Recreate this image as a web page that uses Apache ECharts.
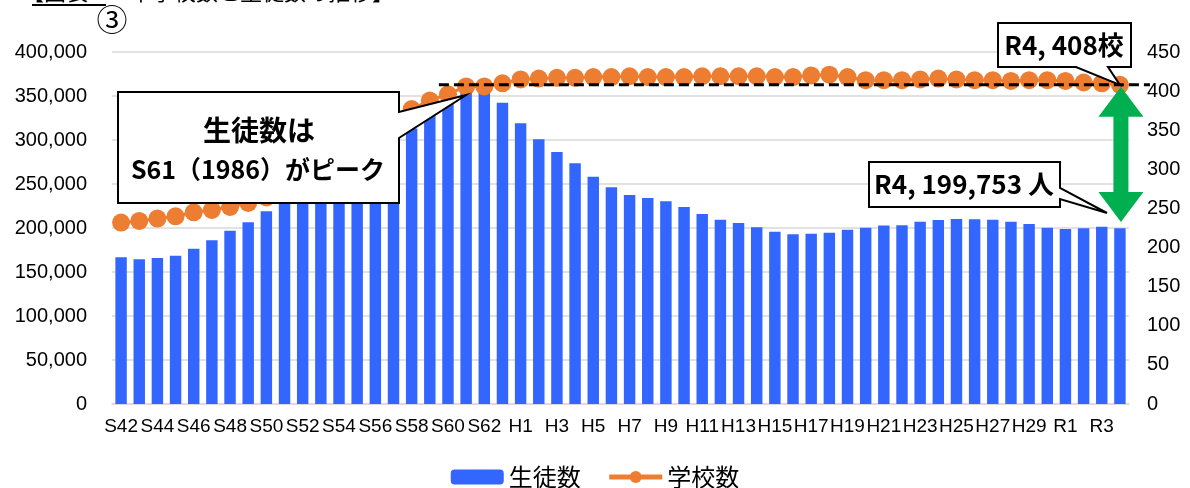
<!DOCTYPE html>
<html>
<head>
<meta charset="utf-8">
<script src="https://cdn.jsdelivr.net/npm/echarts@6/dist/echarts.min.js"></script>
<style>
html,body{margin:0;padding:0;background:#fff;}
#main{width:1190px;height:488px;}
</style>
</head>
<body>
<div id="main"></div>
<script>
// Fiscal years (S = Showa, H = Heisei, R = Reiwa)
const categories = [
  'S42','S43','S44','S45','S46','S47','S48','S49','S50','S51','S52','S53','S54','S55','S56','S57','S58','S59','S60','S61','S62','S63',
  'H1','H2','H3','H4','H5','H6','H7','H8','H9','H10','H11','H12','H13','H14','H15','H16','H17','H18','H19','H20','H21','H22','H23','H24','H25','H26','H27','H28','H29','H30',
  'R1','R2','R3','R4'
];
// 生徒数 (students)
const students = [
  166700,164400,165900,168500,176500,186000,197000,206400,219000,229000,240000,251000,262000,274000,286000,299000,313000,332000,357600,363000,358000,342400,
  319000,300800,286400,273500,258300,246200,237500,234100,230300,223900,215900,209500,205700,200800,195800,192800,193600,194700,198100,200400,202700,203000,207200,209100,210200,209900,209500,207200,204500,200400,
  198900,199600,201500,199753
];
// 学校数 (schools)
const schools = [
  232,234,237,240,245,248,252,257,264,275,288,302,317,332,347,362,377,388,396,406,406,410,
  415,416,417,417,418,418,419,418,418,418,419,419,419,419,418,418,420,421,418,414,414,414,415,416,415,414,414,413,414,414,
  413,411,410,408
];
const leftTicks = {min: 0, max: 400000, interval: 50000};
const rightTicks = {min: 0, max: 450, interval: 50};
const seriesNames = ['生徒数', '学校数'];

(function () {
const chart = echarts.init(document.getElementById('main'), null, {renderer: 'canvas'});
const labelFont = 'Liberation Sans';
const cjk = '"Noto Sans CJK JP"';

chart.setOption({
  animation: false,
  backgroundColor: '#fff',
  grid: {left: 112, right: 61, top: 52, bottom: 84, containLabel: false},
  legend: {
    data: [
      {name: seriesNames[0]},
      {name: seriesNames[1], lineStyle: {width: 5}}
    ],
    left: 'center',
    top: 460,
    itemWidth: 53,
    itemHeight: 15,
    itemGap: 26,
    textStyle: {fontSize: 24, fontFamily: cjk, color: '#000'}
  },
  xAxis: {
    type: 'category',
    data: categories,
    axisTick: {show: false},
    axisLine: {lineStyle: {color: '#d9d9d9', width: 1.5}},
    axisLabel: {interval: 1, fontSize: 19, fontFamily: labelFont, color: '#000', margin: 13}
  },
  yAxis: [
    {
      type: 'value', min: leftTicks.min, max: leftTicks.max, interval: leftTicks.interval,
      axisLine: {show: false}, axisTick: {show: false},
      axisLabel: {fontSize: 20, fontFamily: labelFont, color: '#000', margin: 25,
        formatter: v => v.toLocaleString('en-US')},
      splitLine: {lineStyle: {color: '#d9d9d9', width: 1.5}}
    },
    {
      type: 'value', min: rightTicks.min, max: rightTicks.max, interval: rightTicks.interval,
      axisLine: {show: false}, axisTick: {show: false},
      axisLabel: {fontSize: 20, fontFamily: labelFont, color: '#000', margin: 18},
      splitLine: {show: false}
    }
  ],
  series: [
    {
      name: seriesNames[0], type: 'bar', data: students, yAxisIndex: 0,
      barCategoryGap: '37%', itemStyle: {color: '#3366FF'}, z: 2
    },
    {
      name: seriesNames[1], type: 'line', data: schools, yAxisIndex: 1,
      symbol: 'circle', symbolSize: 18, showSymbol: true, showAllSymbol: true,
      itemStyle: {color: '#ED7D31'}, lineStyle: {color: '#ED7D31', width: 3}, z: 3
    }
  ]
});

// annotations positioned from the axes
const px = c => chart.convertToPixel({xAxisIndex: 0}, c);
const pyR = v => chart.convertToPixel({yAxisIndex: 1}, v);
const lastCat = categories[categories.length - 1];
const lastSchool = schools[schools.length - 1];
const lastStudent = students[students.length - 1];
const xR4 = px(lastCat);
const y408 = pyR(lastSchool);
const xS59 = px('S59'), xS60 = px('S60'), xS61 = px('S61');

const boxStyle = {fill: '#fff', stroke: '#000', lineWidth: 2};
const txt = (x, y, s, size) => ({
  type: 'text', z: 120, x: x, y: y,
  style: {text: s, fill: '#000', font: 'bold ' + size + 'px "Noto Sans CJK JP"', textAlign: 'center', textVerticalAlign: 'middle'}
});

const c1 = {type: 'polygon', z: 110, shape: {points: [
  [118, 92], [399, 92], [399, 112], [xS61, 95], [399, 138], [399, 203], [118, 203]
]}, style: boxStyle};
const c2 = {type: 'polygon', z: 110, shape: {points: [
  [998, 23], [1131, 23], [1131, 67], [1108, 67], [xR4, y408], [1076, 67], [998, 67]
]}, style: boxStyle};
const c3 = {type: 'polygon', z: 110, shape: {points: [
  [869, 162], [1060, 162], [1060, 188], [1107, 213], [1060, 199], [1060, 207], [869, 207]
]}, style: boxStyle};

const ax = xR4 + 1, aTop = y408 + 2, aBot = 222, hw = 22.5, hl = 30, sw = 7.5;
const arrow = {type: 'polygon', z: 115, shape: {points: [
  [ax, aTop], [ax + hw, aTop + hl], [ax + sw, aTop + hl], [ax + sw, aBot - hl], [ax + hw, aBot - hl],
  [ax, aBot], [ax - hw, aBot - hl], [ax - sw, aBot - hl], [ax - sw, aTop + hl], [ax - hw, aTop + hl]
]}, style: {fill: '#00B050'}};

const dash = {type: 'line', z: 105, shape: {x1: (xS59 + xS60) / 2, y1: y408, x2: xR4 + 30, y2: y408},
  style: {stroke: '#000', lineWidth: 3, lineDash: [10, 5]}};

chart.setOption({graphic: [
  dash, c1, c2, c3, arrow,
  txt(259, 130, '生徒数は', 28),
  txt(258, 169, 'S61（1986）がピーク', 25),
  txt(1064, 45, 'R4, ' + lastSchool + '校', 26),
  txt(964, 184, 'R4, ' + lastStudent.toLocaleString('en-US') + ' 人', 26),
  {type: 'text', z: 120, x: 112, y: 19, style: {text: '③', fill: '#000', font: '31px "Noto Sans CJK JP"', textAlign: 'center', textVerticalAlign: 'middle'}},
  {type: 'text', z: 120, x: 22, y: 3, style: {text: '【図表', fill: '#000', font: '22px "Noto Sans CJK JP"', textAlign: 'left', textVerticalAlign: 'bottom'}},
  {type: 'text', z: 120, x: 130, y: 3, style: {text: '中学校数と生徒数の推移】', fill: '#000', font: '22px "Noto Sans CJK JP"', textAlign: 'left', textVerticalAlign: 'bottom'}},
  {type: 'line', z: 120, shape: {x1: 32, y1: 5, x2: 106, y2: 5}, style: {stroke: '#000', lineWidth: 2}}
]});
})();
</script>
</body>
</html>
